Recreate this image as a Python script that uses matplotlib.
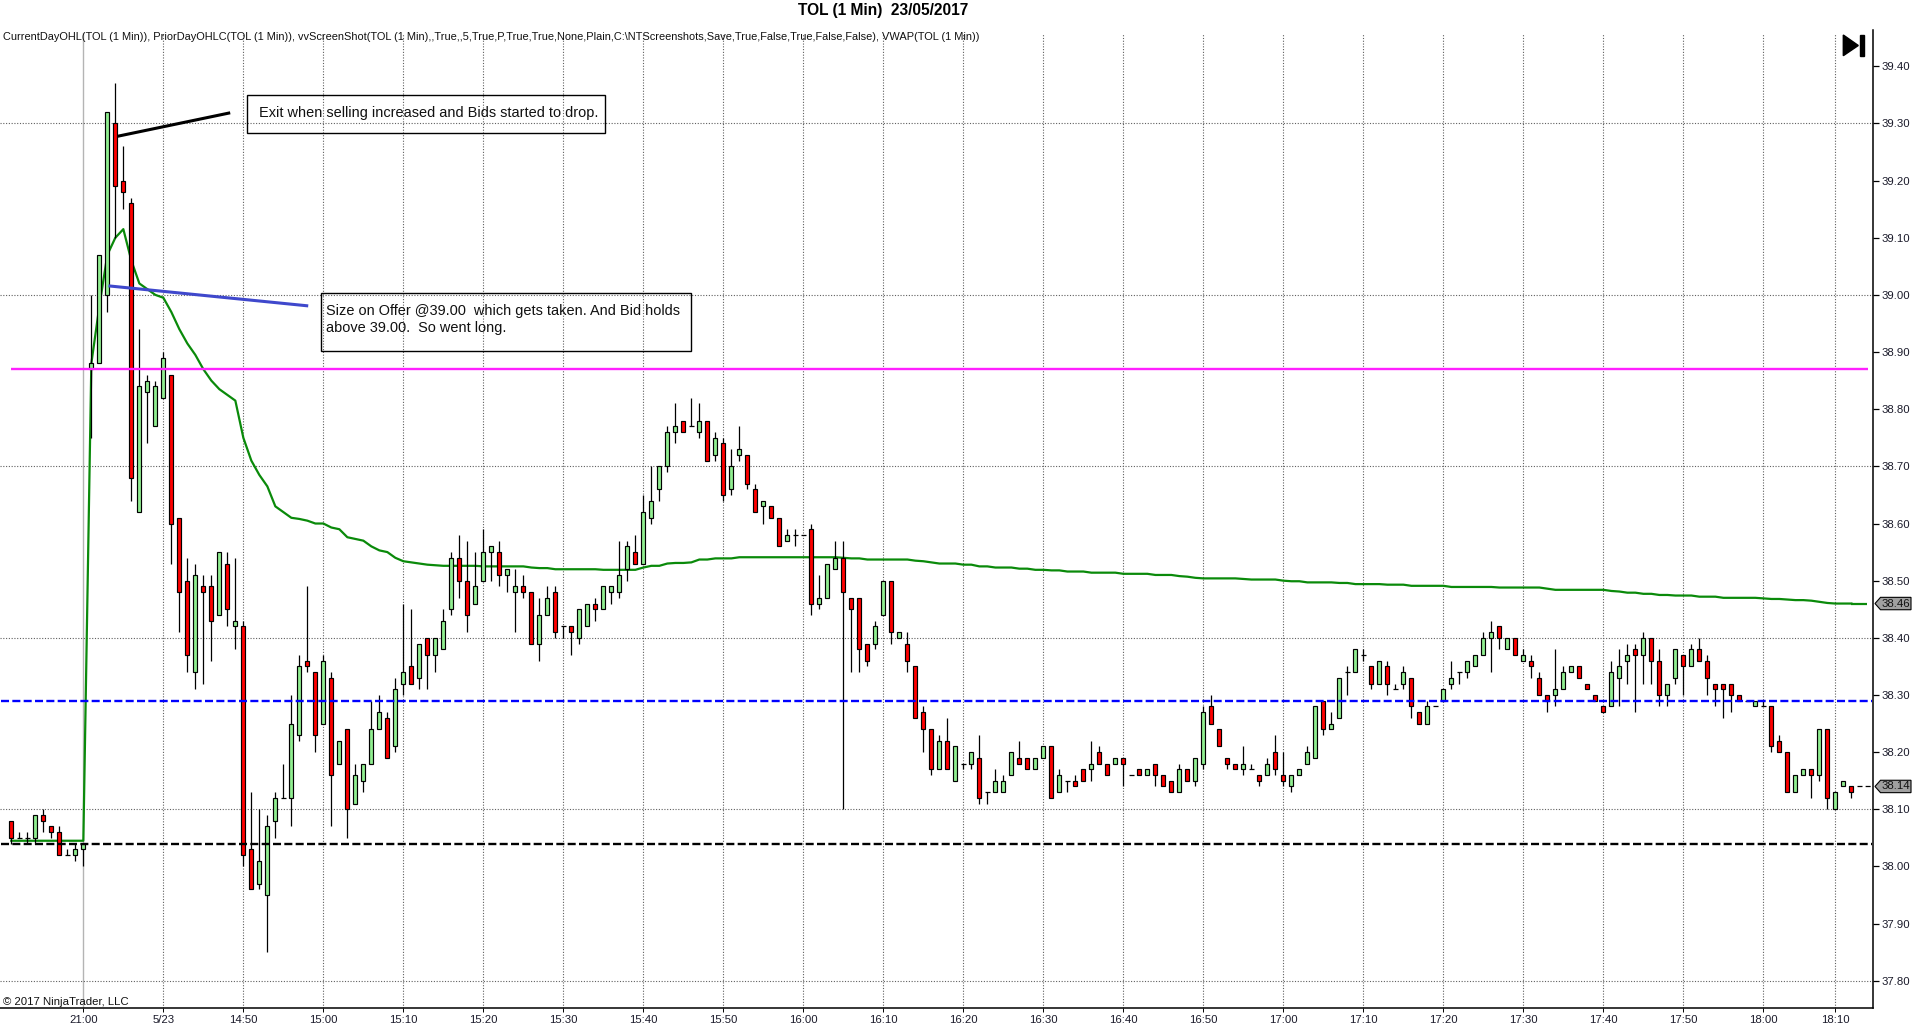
import numpy as np
import matplotlib
matplotlib.use('Agg')
import matplotlib.pyplot as plt
from matplotlib.patches import Polygon
from matplotlib.transforms import IdentityTransform

plt.rcParams['font.family'] = ['Liberation Sans', 'DejaVu Sans']

opens = [38.08, 38.05, 38.05, 38.05, 38.09, 38.07, 38.06, 38.02, 38.02, 38.03,
         38.87, 38.88, 39.00, 39.30, 39.20, 39.16, 38.62, 38.83, 38.77, 38.82,
         38.86, 38.61, 38.50, 38.34, 38.49, 38.49, 38.44, 38.53, 38.42, 38.42,
         38.03, 37.97, 37.95, 38.08, 38.12, 38.12, 38.23, 38.36, 38.34, 38.25,
         38.33, 38.18, 38.24, 38.11, 38.15, 38.18, 38.24, 38.26, 38.21, 38.32,
         38.35, 38.33, 38.40, 38.37, 38.38, 38.45, 38.54, 38.50, 38.46, 38.50,
         38.55, 38.55, 38.51, 38.48, 38.49, 38.48, 38.39, 38.44, 38.48, 38.42,
         38.42, 38.40, 38.42, 38.46, 38.45, 38.48, 38.48, 38.52, 38.55, 38.53,
         38.61, 38.66, 38.70, 38.76, 38.78, 38.77, 38.76, 38.78, 38.72, 38.74,
         38.66, 38.72, 38.72, 38.66, 38.63, 38.63, 38.61, 38.57, 38.58, 38.58,
         38.59, 38.46, 38.47, 38.52, 38.54, 38.47, 38.47, 38.39, 38.39, 38.44,
         38.50, 38.40, 38.39, 38.35, 38.27, 38.24, 38.17, 38.22, 38.15, 38.18,
         38.18, 38.19, 38.13, 38.13, 38.13, 38.16, 38.19, 38.19, 38.17, 38.19,
         38.21, 38.13, 38.15, 38.15, 38.17, 38.17, 38.20, 38.18, 38.18, 38.19,
         38.16, 38.17, 38.16, 38.18, 38.16, 38.15, 38.13, 38.17, 38.15, 38.18,
         38.28, 38.24, 38.19, 38.18, 38.17, 38.17, 38.16, 38.16, 38.20, 38.16,
         38.14, 38.16, 38.18, 38.19, 38.29, 38.24, 38.26, 38.34, 38.34, 38.37,
         38.35, 38.32, 38.35, 38.31, 38.32, 38.33, 38.27, 38.25, 38.28, 38.29,
         38.32, 38.34, 38.34, 38.35, 38.37, 38.40, 38.42, 38.38, 38.40, 38.36,
         38.36, 38.33, 38.30, 38.30, 38.31, 38.34, 38.35, 38.32, 38.30, 38.28,
         38.28, 38.33, 38.36, 38.38, 38.37, 38.40, 38.36, 38.30, 38.33, 38.37,
         38.35, 38.38, 38.36, 38.32, 38.32, 38.32, 38.30, 38.29, 38.28, 38.28,
         38.28, 38.22, 38.20, 38.13, 38.16, 38.17, 38.16, 38.24, 38.10, 38.14,
         38.14]
highs = [38.08, 38.06, 38.06, 38.09, 38.10, 38.07, 38.07, 38.03, 38.04, 38.04,
         39.00, 39.07, 39.32, 39.37, 39.26, 39.17, 38.94, 38.86, 38.85, 38.90,
         38.86, 38.61, 38.54, 38.53, 38.51, 38.51, 38.55, 38.55, 38.54, 38.43,
         38.13, 38.10, 38.09, 38.13, 38.18, 38.30, 38.37, 38.49, 38.34, 38.37,
         38.34, 38.22, 38.24, 38.18, 38.18, 38.29, 38.30, 38.27, 38.33, 38.46,
         38.45, 38.39, 38.40, 38.40, 38.45, 38.55, 38.58, 38.57, 38.55, 38.59,
         38.56, 38.57, 38.52, 38.52, 38.51, 38.48, 38.47, 38.49, 38.49, 38.42,
         38.42, 38.45, 38.46, 38.47, 38.49, 38.49, 38.57, 38.57, 38.58, 38.65,
         38.70, 38.70, 38.77, 38.81, 38.78, 38.82, 38.81, 38.78, 38.76, 38.75,
         38.73, 38.77, 38.72, 38.67, 38.64, 38.63, 38.61, 38.59, 38.59, 38.58,
         38.60, 38.51, 38.53, 38.57, 38.57, 38.47, 38.47, 38.39, 38.43, 38.50,
         38.50, 38.41, 38.41, 38.35, 38.28, 38.24, 38.23, 38.26, 38.21, 38.18,
         38.20, 38.23, 38.13, 38.17, 38.16, 38.20, 38.22, 38.19, 38.19, 38.21,
         38.21, 38.17, 38.15, 38.16, 38.17, 38.22, 38.21, 38.18, 38.19, 38.19,
         38.16, 38.17, 38.17, 38.18, 38.16, 38.15, 38.18, 38.17, 38.19, 38.28,
         38.30, 38.24, 38.19, 38.18, 38.21, 38.18, 38.16, 38.19, 38.23, 38.20,
         38.16, 38.17, 38.21, 38.28, 38.29, 38.27, 38.33, 38.35, 38.38, 38.38,
         38.35, 38.36, 38.36, 38.32, 38.35, 38.33, 38.27, 38.29, 38.28, 38.31,
         38.36, 38.34, 38.36, 38.37, 38.41, 38.43, 38.42, 38.40, 38.40, 38.38,
         38.37, 38.34, 38.30, 38.38, 38.35, 38.35, 38.35, 38.32, 38.30, 38.28,
         38.36, 38.38, 38.39, 38.39, 38.41, 38.40, 38.38, 38.32, 38.38, 38.37,
         38.39, 38.40, 38.37, 38.32, 38.32, 38.32, 38.30, 38.29, 38.29, 38.29,
         38.28, 38.23, 38.20, 38.16, 38.17, 38.17, 38.24, 38.24, 38.13, 38.15,
         38.14]
lows = [38.04, 38.05, 38.04, 38.04, 38.06, 38.05, 38.02, 38.02, 38.01, 38.00,
        38.75, 38.88, 38.97, 39.10, 39.15, 38.64, 38.62, 38.74, 38.77, 38.82,
        38.53, 38.41, 38.34, 38.31, 38.32, 38.36, 38.44, 38.42, 38.38, 38.00,
        37.96, 37.96, 37.85, 38.05, 38.12, 38.07, 38.22, 38.34, 38.20, 38.25,
        38.07, 38.18, 38.05, 38.11, 38.13, 38.18, 38.24, 38.19, 38.20, 38.30,
        38.32, 38.31, 38.31, 38.34, 38.38, 38.44, 38.47, 38.41, 38.46, 38.50,
        38.50, 38.49, 38.48, 38.41, 38.47, 38.39, 38.36, 38.44, 38.40, 38.40,
        38.37, 38.39, 38.42, 38.43, 38.45, 38.46, 38.47, 38.50, 38.53, 38.53,
        38.60, 38.64, 38.69, 38.74, 38.76, 38.77, 38.75, 38.71, 38.71, 38.64,
        38.65, 38.71, 38.66, 38.62, 38.60, 38.61, 38.56, 38.57, 38.56, 38.58,
        38.44, 38.45, 38.47, 38.52, 38.10, 38.34, 38.34, 38.35, 38.38, 38.44,
        38.39, 38.40, 38.34, 38.26, 38.20, 38.16, 38.17, 38.17, 38.15, 38.17,
        38.17, 38.11, 38.11, 38.13, 38.13, 38.16, 38.18, 38.17, 38.17, 38.19,
        38.12, 38.13, 38.13, 38.14, 38.15, 38.15, 38.18, 38.16, 38.18, 38.14,
        38.16, 38.16, 38.16, 38.14, 38.14, 38.13, 38.13, 38.15, 38.14, 38.17,
        38.25, 38.21, 38.17, 38.17, 38.16, 38.17, 38.14, 38.16, 38.16, 38.14,
        38.13, 38.16, 38.18, 38.19, 38.23, 38.24, 38.26, 38.30, 38.34, 38.36,
        38.31, 38.32, 38.30, 38.31, 38.31, 38.26, 38.25, 38.25, 38.28, 38.29,
        38.31, 38.32, 38.33, 38.35, 38.37, 38.34, 38.38, 38.38, 38.37, 38.36,
        38.33, 38.30, 38.27, 38.28, 38.31, 38.34, 38.33, 38.31, 38.29, 38.27,
        38.28, 38.28, 38.32, 38.27, 38.32, 38.32, 38.28, 38.28, 38.32, 38.30,
        38.35, 38.36, 38.30, 38.28, 38.26, 38.27, 38.29, 38.29, 38.28, 38.28,
        38.20, 38.20, 38.13, 38.13, 38.16, 38.12, 38.15, 38.10, 38.10, 38.14,
        38.12]
closes = [38.05, 38.05, 38.05, 38.09, 38.08, 38.06, 38.02, 38.02, 38.03, 38.04,
          38.88, 39.07, 39.32, 39.19, 39.18, 38.68, 38.84, 38.85, 38.84, 38.89,
          38.60, 38.48, 38.37, 38.51, 38.48, 38.43, 38.55, 38.45, 38.43, 38.02,
          37.96, 38.01, 38.07, 38.12, 38.12, 38.25, 38.35, 38.35, 38.23, 38.36,
          38.16, 38.22, 38.10, 38.16, 38.18, 38.24, 38.27, 38.19, 38.31, 38.34,
          38.32, 38.39, 38.37, 38.40, 38.43, 38.54, 38.50, 38.44, 38.49, 38.55,
          38.56, 38.51, 38.52, 38.49, 38.48, 38.39, 38.44, 38.47, 38.41, 38.42,
          38.41, 38.45, 38.46, 38.45, 38.49, 38.49, 38.51, 38.56, 38.53, 38.62,
          38.64, 38.70, 38.76, 38.77, 38.76, 38.77, 38.78, 38.71, 38.75, 38.65,
          38.70, 38.73, 38.67, 38.62, 38.64, 38.61, 38.56, 38.58, 38.58, 38.58,
          38.46, 38.47, 38.53, 38.54, 38.48, 38.45, 38.38, 38.36, 38.42, 38.50,
          38.41, 38.41, 38.36, 38.26, 38.24, 38.17, 38.22, 38.17, 38.21, 38.18,
          38.20, 38.12, 38.13, 38.15, 38.15, 38.20, 38.18, 38.17, 38.19, 38.21,
          38.12, 38.16, 38.15, 38.14, 38.15, 38.18, 38.18, 38.16, 38.19, 38.18,
          38.16, 38.16, 38.17, 38.16, 38.14, 38.13, 38.17, 38.15, 38.19, 38.27,
          38.25, 38.21, 38.18, 38.17, 38.18, 38.17, 38.15, 38.18, 38.17, 38.15,
          38.16, 38.17, 38.20, 38.28, 38.24, 38.25, 38.33, 38.34, 38.38, 38.37,
          38.32, 38.36, 38.32, 38.31, 38.34, 38.28, 38.25, 38.28, 38.28, 38.31,
          38.33, 38.34, 38.36, 38.37, 38.40, 38.41, 38.40, 38.40, 38.37, 38.37,
          38.35, 38.30, 38.29, 38.31, 38.34, 38.35, 38.33, 38.31, 38.29, 38.27,
          38.34, 38.35, 38.37, 38.37, 38.40, 38.36, 38.30, 38.32, 38.38, 38.35,
          38.38, 38.36, 38.33, 38.31, 38.31, 38.30, 38.29, 38.29, 38.29, 38.28,
          38.21, 38.20, 38.13, 38.16, 38.17, 38.16, 38.24, 38.12, 38.13, 38.15,
          38.13]
vwap = [38.045, 38.045, 38.045, 38.045, 38.045, 38.045, 38.045, 38.045, 38.045, 38.045,
        38.88, 38.98, 39.07, 39.10, 39.115, 39.06, 39.02, 39.01, 39.00, 38.995,
        38.97, 38.94, 38.915, 38.895, 38.87, 38.85, 38.835, 38.825, 38.815, 38.75,
        38.71, 38.685, 38.665, 38.63, 38.62, 38.61, 38.608, 38.605, 38.60, 38.60,
        38.593, 38.59, 38.576, 38.573, 38.57, 38.56, 38.553, 38.55, 38.54, 38.534,
        38.532, 38.53, 38.528, 38.527, 38.526, 38.526, 38.526, 38.526, 38.526, 38.525,
        38.525, 38.525, 38.525, 38.525, 38.525, 38.523, 38.522, 38.522, 38.52, 38.52,
        38.52, 38.52, 38.52, 38.52, 38.519, 38.519, 38.519, 38.519, 38.519, 38.523,
        38.526, 38.526, 38.53, 38.531, 38.531, 38.532, 38.537, 38.537, 38.539, 38.539,
        38.539, 38.541, 38.541, 38.541, 38.541, 38.541, 38.541, 38.541, 38.541, 38.541,
        38.541, 38.541, 38.541, 38.541, 38.54, 38.539, 38.539, 38.537, 38.537, 38.537,
        38.537, 38.537, 38.537, 38.535, 38.534, 38.532, 38.53, 38.53, 38.53, 38.528,
        38.528, 38.525, 38.525, 38.523, 38.523, 38.523, 38.521, 38.521, 38.519, 38.519,
        38.518, 38.518, 38.516, 38.516, 38.516, 38.514, 38.514, 38.514, 38.514, 38.512,
        38.512, 38.512, 38.512, 38.51, 38.51, 38.51, 38.508, 38.507, 38.505, 38.504,
        38.504, 38.504, 38.504, 38.504, 38.503, 38.502, 38.502, 38.502, 38.502, 38.50,
        38.499, 38.499, 38.497, 38.497, 38.497, 38.497, 38.496, 38.496, 38.494, 38.494,
        38.494, 38.494, 38.493, 38.493, 38.493, 38.491, 38.491, 38.491, 38.491, 38.491,
        38.489, 38.489, 38.489, 38.489, 38.489, 38.489, 38.488, 38.488, 38.488, 38.488,
        38.488, 38.488, 38.486, 38.484, 38.484, 38.484, 38.484, 38.484, 38.484, 38.484,
        38.482, 38.481, 38.479, 38.479, 38.477, 38.477, 38.475, 38.475, 38.474, 38.474,
        38.474, 38.472, 38.472, 38.472, 38.47, 38.47, 38.47, 38.47, 38.47, 38.469,
        38.468, 38.468, 38.467, 38.466, 38.466, 38.465, 38.463, 38.461, 38.46, 38.46,
        38.46]

time_tick_bars = [9, 19, 29, 39, 49, 59, 69, 79, 89, 99, 109, 119, 129, 139, 149,
                  159, 169, 179, 189, 199, 209, 219, 228]
time_tick_labels = ['21:00', '5/23', '14:50', '15:00', '15:10', '15:20', '15:30',
                    '15:40', '15:50', '16:00', '16:10', '16:20', '16:30', '16:40',
                    '16:50', '17:00', '17:10', '17:20', '17:30', '17:40', '17:50',
                    '18:00', '18:10']
price_ticks = [37.80, 37.90, 38.00, 38.10, 38.20, 38.30, 38.40, 38.50, 38.60, 38.70,
               38.80, 38.90, 39.00, 39.10, 39.20, 39.30, 39.40]
price_grid = [37.80, 38.10, 38.40, 38.70, 39.00, 39.30]

prior_close = 38.87
day_open = 38.29
day_low = 38.04
last_price = 38.14
last_vwap = 38.46

exit_line_bars = [13.46, 27.17]
exit_line_prices = [39.278, 39.318]
offer_line_bars = [12.33, 36.92]
offer_line_prices = [39.0155, 38.981]

W, H = 1920, 1034
# plot area in pixels, the price and bar scales are fixed so bars land on the 8px raster
LEFT, RIGHT, TOP, BOTTOM = 0, 1873, 30, 1008


def flip(y):
    return H - y


fig = plt.figure(figsize=(W / 100, H / 100), dpi=100)
ax = fig.add_axes([LEFT / W, 1 - BOTTOM / H, (RIGHT - LEFT) / W, (BOTTOM - TOP) / H])
ax.set_xlim(-1.4167, 232.7)
ax.set_ylim(37.7524, 39.4634)
ax.set_facecolor('white')

for s in ['left', 'top']:
    ax.spines[s].set_visible(False)
ax.spines['right'].set_linewidth(1.1)
ax.spines['bottom'].set_linewidth(1.1)

ax.yaxis.tick_right()
ax.set_yticks(price_ticks)
ax.set_yticklabels(['%.2f' % p for p in price_ticks], fontsize=8.2, color='#1a1a2a')
ax.tick_params(axis='y', length=4.2, width=0.9, pad=2)
ax.set_xticks(time_tick_bars)
ax.set_xticklabels(time_tick_labels, fontsize=8.2, color='#1a1a2a')
ax.tick_params(axis='x', length=3, width=0.7, pad=2)

dots = (0, (1, 1.5))
for b in time_tick_bars:
    if b == 9:
        ax.axvline(b, color='#b4b4b4', lw=1, zorder=1, ymax=0.997)
    else:
        ax.axvline(b, color='#606060', lw=0.8, ls=dots, zorder=1, ymax=0.997)
for p in price_grid:
    ax.axhline(p, color='#606060', lw=0.8, ls=dots, zorder=1)

bars = np.arange(len(opens))
ax.plot(bars, vwap, color='#0a8a0a', lw=1.6, zorder=2, solid_joinstyle='round')
ax.hlines(last_vwap, bars[-1], 232.0, color='#0a8a0a', lw=1.6, zorder=2)

for i in bars:
    o, h, l, c = opens[i], highs[i], lows[i], closes[i]
    ax.vlines(i, l, h, color='black', lw=0.9, zorder=3)
    if o == c:
        ax.hlines(o, i - 0.32, i + 0.32, color='black', lw=0.9, zorder=3)
    else:
        col = '#90ee90' if c > o else '#ff0000'
        ax.bar(i, abs(c - o), bottom=min(o, c), width=0.5, color=col,
               edgecolor='black', linewidth=0.85, zorder=3)

ax.hlines(prior_close, 0, 232.1, color='#ff20ff', lw=1.7, zorder=4)
ax.hlines(day_open, -1.3, 232.6, color='#0000ff', lw=1.7, ls=(0, (3.4, 1.4)), zorder=4)
ax.hlines(day_low, -1.3, 232.6, color='black', lw=1.7, ls=(0, (3.4, 1.4)), zorder=4)
ax.hlines(last_price, 230.7, 232.7, color='black', lw=0.9, ls=(0, (4, 2.5)), zorder=4)

ax.plot(exit_line_bars, exit_line_prices, color='black', lw=2.2, zorder=5)
ax.plot(offer_line_bars, offer_line_prices, color='#3f48cc', lw=2.2, zorder=5)

# text boxes, no fill since the grid runs through them
for x0, x1, y0, y1 in [(247.3, 604.7, 95.3, 133.3), (321.3, 690.7, 293.3, 351.3)]:
    fig.add_artist(plt.Rectangle((x0, flip(y1)), x1 - x0, y1 - y0, fill=False, edgecolor='black',
                                 lw=1, transform=IdentityTransform(), zorder=6))

txt = dict(transform=IdentityTransform(), color='#111111', va='center', ha='left')
fig.text(259.3, flip(112.5), 'Exit when selling increased and Bids started to drop.', fontsize=10.42, **txt)
fig.text(326.3, flip(310.5), 'Size on Offer @39.00  which gets taken. And Bid holds', fontsize=10.45, **txt)
fig.text(326.3, flip(328), 'above 39.00.  So went long.', fontsize=10.45, **txt)
fig.text(3, flip(37), 'CurrentDayOHL(TOL (1 Min)), PriorDayOHLC(TOL (1 Min)), vvScreenShot(TOL (1 Min),,True,,5,True,P,True,True,None,Plain,C:\\NTScreenshots,Save,True,False,True,False,False), VWAP(TOL (1 Min))',
         fontsize=7.95, **txt)
fig.text(3, flip(1002), '\u00a9 2017 NinjaTrader, LLC', fontsize=8.2, **txt)
fig.text(883, flip(11), 'TOL (1 Min)  23/05/2017', fontsize=11.2, fontweight='bold',
         transform=IdentityTransform(), color='black', va='center', ha='center')

# jump-to-end button
fig.add_artist(Polygon([(1843.3, flip(35)), (1858.3, flip(45.5)), (1843.3, flip(55.7))], closed=True,
                       color='black', transform=IdentityTransform()))
fig.add_artist(plt.Rectangle((1860.3, flip(55.7)), 3.4, 20.7, color='black', transform=IdentityTransform()))


def price_tag(price):
    y = ax.transData.transform((0, price))[1]
    pts = [(1875, y), (1880.5, y + 6.2), (1911, y + 6.2), (1911, y - 6.2), (1880.5, y - 6.2)]
    fig.add_artist(Polygon(pts, closed=True, facecolor='#a0a0a0', edgecolor='black', lw=0.8,
                           transform=IdentityTransform(), zorder=6))
    fig.text(1896, y, '%.2f' % price, fontsize=8.2, color='#111111', ha='center', va='center',
             transform=IdentityTransform(), zorder=7)


price_tag(last_vwap)
price_tag(last_price)

fig.savefig('out.png', dpi=100)
